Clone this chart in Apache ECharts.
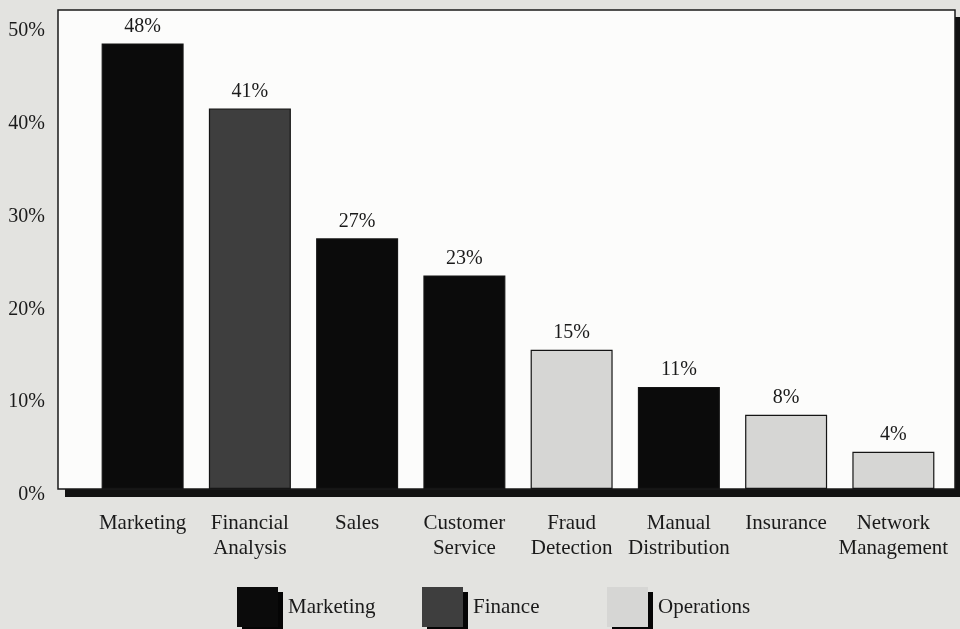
<!DOCTYPE html>
<html><head><meta charset="utf-8">
<script src="https://cdn.jsdelivr.net/npm/echarts@6/dist/echarts.min.js"></script>
<style>html,body{margin:0;padding:0;background:#e3e3e0}#c{width:960px;height:629px}</style>
</head><body><div id="c"></div>
<script>
const categories = ['Marketing','Financial\nAnalysis','Sales','Customer\nService','Fraud\nDetection','Manual\nDistribution','Insurance','Network\nManagement'];
const values = [48,41,27,23,15,11,8,4];
const departments = ['Marketing','Finance','Operations'];
const categoryDept = ['Marketing','Finance','Marketing','Marketing','Operations','Marketing','Operations','Operations'];
const yTicks = [0,10,20,30,40,50];

const colors = {Marketing:'#0b0b0b', Finance:'#3e3e3e', Operations:'#d6d6d4'};
const font = '"Liberation Serif", "DejaVu Serif", serif';
const ymax = 51.6;
const legendLefts = [237, 422, 607];

const chart = echarts.init(document.getElementById('c'), null, {renderer:'canvas'});
chart.setOption({
  backgroundColor:'#e3e3e0',
  animation:false,
  grid:[
    {left:65,right:0,top:17,bottom:132,show:true,backgroundColor:'#111',borderWidth:0},
    {left:58,right:5,top:10,bottom:140,show:true,backgroundColor:'#fcfcfb',borderColor:'#1a1a1a',borderWidth:1.5},
    {left:89,right:13,top:10,bottom:140}
  ],
  xAxis:[
    {gridIndex:0,type:'category',data:[''],show:false},
    {gridIndex:1,type:'category',data:[''],show:false},
    {gridIndex:2,type:'category',data:categories,axisLine:{show:false},axisTick:{show:false},
     axisLabel:{interval:0,margin:22,color:'#1a1a1a',fontFamily:font,fontSize:21,lineHeight:25}}
  ],
  yAxis:[
    {gridIndex:0,type:'value',show:false,splitLine:{show:false}},
    {gridIndex:1,type:'value',min:0,max:ymax,interval:10,axisLine:{show:false},axisTick:{show:false},splitLine:{show:false},
     axisLabel:{margin:13,color:'#1a1a1a',fontFamily:font,fontSize:20,verticalAlign:'top',lineHeight:12,
       formatter:v=>yTicks.includes(v)?v+'%':''}},
    {gridIndex:2,type:'value',min:0,max:ymax,show:false,splitLine:{show:false}}
  ],
  legend:departments.map((d,i)=>({left:legendLefts[i],top:587,padding:0,itemWidth:41,itemHeight:40,icon:'rect',
    itemStyle:{borderWidth:0,shadowColor:'#050505',shadowOffsetX:5,shadowOffsetY:5,shadowBlur:0},
    textStyle:{fontFamily:font,fontSize:21,color:'#1a1a1a',padding:[0,0,0,5]},
    data:[d]})),
  series:departments.map(d=>({
    name:d,type:'bar',xAxisIndex:2,yAxisIndex:2,barWidth:82,barGap:'-100%',
    data:values.map((v,i)=>categoryDept[i]===d?v:null),
    itemStyle:{color:colors[d],borderColor:'#151515',borderWidth:1.2},
    label:{show:true,position:'top',distance:7,formatter:'{c}%',fontFamily:font,fontSize:20,color:'#1a1a1a'}
  }))
});
</script></body></html>
